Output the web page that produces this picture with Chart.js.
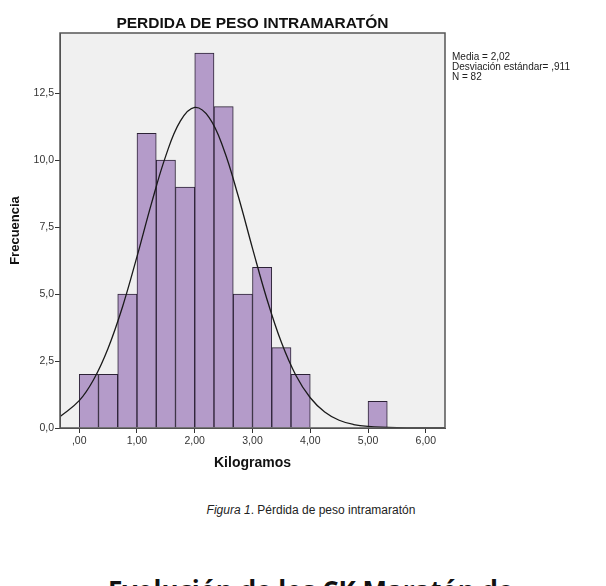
<!DOCTYPE html>
<html>
<head>
<meta charset="utf-8">
<script src="https://cdn.jsdelivr.net/npm/chart.js@4"></script>
<style>
  html, body { margin: 0; padding: 0; background: #fff; width: 606px; height: 586px; overflow: hidden; }
  body { position: relative; font-family: "Liberation Sans", Arial, sans-serif; color: #111; }
  #wrap { position: absolute; left: 0; top: 0; width: 606px; height: 480px; }
  .abs { position: absolute; white-space: nowrap; }
  #title { left: 60px; width: 385px; top: 14px; text-align: center; font-weight: bold; font-size: 15.5px; }
  #stats { left: 452px; top: 52px; font-size: 10px; line-height: 10px; color: #222; }
  #caption { left: 0; width: 622px; top: 503px; text-align: center; font-size: 12px; color: #222; }
  #next { left: 108px; top: 575px; font-family: "Open Sans", sans-serif; font-weight: bold; font-size: 26px; line-height: 30px; }
</style>
</head>
<body>
<div id="wrap"><canvas id="c" width="606" height="480"></canvas></div>
<div class="abs" id="title">PERDIDA DE PESO INTRAMARATÓN</div>
<div class="abs" id="stats">Media = 2,02<br>Desviación estándar= ,911<br>N = 82</div>
<div class="abs" id="caption"><i>Figura 1</i>. Pérdida de peso intramaratón</div>
<div class="abs" id="next">Evolución de los CK Maratón de</div>
<script>
// Histogram of weight loss (kg), bins of 1/3 kg, plus fitted normal curve
const binCenters = [0.1667, 0.5, 0.8333, 1.1667, 1.5, 1.8333, 2.1667, 2.5, 2.8333, 3.1667, 3.5, 3.8333, 4.1667, 4.5, 4.8333, 5.1667];
const binCounts = [2, 2, 5, 11, 10, 9, 14, 12, 5, 6, 3, 2, null, null, null, 1];

const curveX = [-0.33, 0, 0.25, 0.5, 0.75, 1.0, 1.25, 1.5, 1.75, 2.0, 2.25, 2.5, 2.75, 3.0, 3.25, 3.5, 3.75, 4.0, 4.25, 4.5, 4.75, 5.0, 5.5, 6.0, 6.33];
const curveY = [0.43, 1.02, 1.81, 2.98, 4.53, 6.40, 8.38, 10.17, 11.46, 11.97, 11.59, 10.42, 8.68, 6.71, 4.81, 3.20, 1.97, 1.13, 0.60, 0.29, 0.13, 0.06, 0.01, 0, 0];

const xTicks = [0, 1, 2, 3, 4, 5, 6];
const yTicks = [0, 2.5, 5, 7.5, 10, 12.5];

const comma = (v, d) => {
  const s = v.toFixed(d).replace(".", ",");
  return s.startsWith("0,") && d === 2 ? s.slice(1) : s;
};

const FONT = "'Liberation Sans', Arial, sans-serif";
Chart.defaults.font.family = FONT;
Chart.defaults.color = "#333";

const plotBox = {
  id: "plotBox",
  beforeDraw(c) {
    const a = c.chartArea, ctx = c.ctx;
    ctx.save();
    ctx.fillStyle = "#f0f0f0";
    ctx.fillRect(a.left, a.top, a.right - a.left, a.bottom - a.top);
    ctx.restore();
  },
  afterDraw(c) {
    const a = c.chartArea, ctx = c.ctx;
    ctx.save();
    ctx.strokeStyle = "#555";
    ctx.lineWidth = 1.5;
    ctx.strokeRect(a.left, a.top, a.right - a.left, a.bottom - a.top);
    ctx.restore();
  },
};

new Chart(document.getElementById("c"), {
  data: {
    datasets: [
      {
        type: "line",
        data: curveX.map((x, i) => ({ x, y: curveY[i] })),
        borderColor: "#1a1a1a",
        borderWidth: 1.3,
        pointRadius: 0,
        tension: 0.4,
        fill: false,
        order: 0,
      },
      {
        type: "bar",
        data: binCenters.map((x, i) => ({ x, y: binCounts[i] })),
        backgroundColor: "#b49bc9",
        borderColor: "#2c2236",
        borderWidth: 1,
        borderSkipped: "start",
        barPercentage: 1,
        categoryPercentage: 1,
        order: 1,
      },
    ],
  },
  options: {
    responsive: false,
    animation: false,
    layout: { padding: { left: 0, top: 33, right: 161, bottom: 0 } },
    plugins: { legend: { display: false }, tooltip: { enabled: false } },
    scales: {
      x: {
        type: "linear",
        offset: false,
        min: -0.333,
        max: 6.333,
        afterBuildTicks: (s) => { s.ticks = xTicks.map((v) => ({ value: v })); },
        afterFit: (s) => { s.height = 52; },
        ticks: { callback: (v) => comma(v, 2), font: { size: 10.5 }, padding: 2, maxRotation: 0 },
        grid: { offset: false, drawOnChartArea: false, drawTicks: true, tickLength: 5, color: "#333" },
        border: { display: true, color: "#444" },
        title: { display: true, text: "Kilogramos", font: { size: 14, weight: "bold" }, color: "#111", padding: { top: 0, bottom: 8 } },
      },
      y: {
        type: "linear",
        min: 0,
        max: 14.75,
        afterBuildTicks: (s) => { s.ticks = yTicks.map((v) => ({ value: v })); },
        afterFit: (s) => { s.width = 60; },
        ticks: { callback: (v) => comma(v, 1), font: { size: 10.5 }, padding: 1 },
        grid: { drawOnChartArea: false, drawTicks: true, tickLength: 5, color: "#333" },
        border: { display: true, color: "#444" },
        title: { display: true, text: "Frecuencia", font: { size: 13, weight: "bold" }, color: "#111", padding: { top: 8, bottom: 0 } },
      },
    },
  },
  plugins: [plotBox],
});
</script>
</body>
</html>
